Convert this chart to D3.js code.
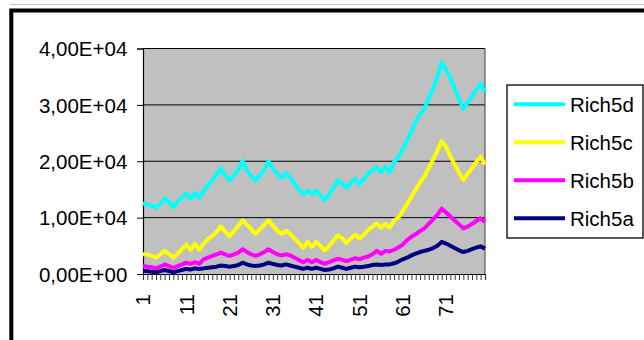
<!DOCTYPE html>
<html>
<head>
<meta charset="utf-8">
<script src="https://cdn.jsdelivr.net/npm/d3@7/dist/d3.min.js"></script>
<style>
  html, body { margin: 0; padding: 0; background: #fff; }
  svg { display: block; }
  text { font-family: "Liberation Sans", Arial, sans-serif; fill: #000; }
</style>
</head>
<body>
<svg id="chart" width="644" height="340"></svg>
<script>
// Category numbers 1..80 along the x axis
const categories = Array.from({ length: 80 }, (_, i) => i + 1);

// Labels shown on the x axis (every tenth category)
const xTickLabels = [1, 11, 21, 31, 41, 51, 61, 71];

// Value axis ticks and their printed labels
const yTickValues = [0, 10000, 20000, 30000, 40000];
const yTickLabels = ["0,00E+00", "1,00E+04", "2,00E+04", "3,00E+04", "4,00E+04"];

const rich5a = [600, 500, 400, 300, 500, 700, 500, 300, 500, 700,
  900, 800, 1000, 900, 1000, 1100, 1200, 1300, 1500, 1400,
  1300, 1400, 1600, 2000, 1700, 1500, 1400, 1500, 1700, 2000,
  1800, 1600, 1500, 1700, 1500, 1300, 1100, 900, 1100, 900,
  1100, 900, 700, 800, 1000, 1300, 1100, 900, 1100, 1300,
  1200, 1300, 1400, 1600, 1700, 1600, 1700, 1700, 1900, 2200,
  2600, 2900, 3300, 3600, 3900, 4100, 4300, 4600, 5000, 5700,
  5400, 5000, 4600, 4200, 3900, 4100, 4400, 4700, 4900, 4500];

const rich5b = [1400, 1300, 1200, 1000, 1300, 1700, 1400, 1100, 1400, 1700,
  2000, 1800, 2100, 1800, 2600, 2900, 3200, 3500, 3800, 3500,
  3200, 3500, 3800, 4400, 3900, 3500, 3200, 3500, 3900, 4400,
  3900, 3500, 3300, 3500, 3300, 2900, 2500, 2100, 2500, 2100,
  2500, 2100, 1800, 2100, 2400, 2700, 2500, 2300, 2500, 2800,
  2600, 2900, 3100, 3500, 4100, 3600, 4100, 4000, 4300, 4700,
  5200, 6000, 6600, 7100, 7600, 8100, 8900, 9700, 10500, 11600,
  10900, 10200, 9500, 8800, 8100, 8400, 8900, 9400, 9900, 9200];

const rich5c = [3500, 3500, 3200, 2900, 3500, 4100, 3600, 2900, 3600, 4400,
  5200, 4300, 5400, 4300, 5400, 6200, 6700, 7500, 8400, 7500,
  6700, 7600, 8500, 9500, 8700, 7900, 7100, 7900, 8700, 9500,
  8600, 7700, 7100, 7700, 7100, 6300, 5500, 4600, 5700, 4800,
  5700, 5000, 4200, 5000, 5900, 6900, 6300, 5500, 6300, 7000,
  6300, 7000, 7800, 8400, 9000, 8200, 8900, 8200, 9500, 10000,
  11200, 12400, 13700, 15000, 16200, 17300, 18800, 20300, 21900, 23600,
  22500, 20900, 19400, 18000, 16700, 17800, 18800, 19900, 20800, 19400];

const rich5d = [12500, 12400, 12100, 11800, 12400, 13400, 12800, 11800, 12800, 13600,
  14300, 13400, 14400, 13500, 14700, 15800, 16500, 17700, 18700, 17500,
  16600, 17500, 18400, 20100, 18400, 17400, 16600, 17500, 18500, 20000,
  18700, 17800, 17000, 17900, 17100, 16000, 15000, 14200, 14800, 14200,
  14800, 13900, 13100, 14100, 15300, 16600, 16000, 15300, 16100, 16900,
  15900, 16900, 17800, 18400, 19000, 18000, 19000, 18000, 19900, 20700,
  22100, 23700, 25200, 27100, 28300, 29300, 31100, 32900, 35000, 37500,
  36300, 34700, 33000, 31000, 29300, 30400, 31500, 32700, 33800, 32200];

const seriesNames = ["Rich5a", "Rich5b", "Rich5c", "Rich5d"];
const seriesValues = [rich5a, rich5b, rich5c, rich5d];
const seriesColors = ["#000080", "#FF00FF", "#FFFF00", "#00FFFF"];

const svg = d3.select("#chart");
const plot = { left: 143, right: 485, top: 48.5, bottom: 274 };
const fontSize = 20.5;

// Outer chart frame (runs off the right and bottom edges)
svg.append("line")
  .attr("x1", 10).attr("x2", 644).attr("y1", 4.5).attr("y2", 4.5)
  .attr("stroke", "#c8c8c8").attr("stroke-width", 1);
svg.append("rect")
  .attr("x", 11.3).attr("y", 10.5).attr("width", 700).attr("height", 400)
  .attr("fill", "#fff").attr("stroke", "#000").attr("stroke-width", 4);

const x = d3.scalePoint().domain(categories).range([plot.left, plot.right]);
const y = d3.scaleLinear().domain([0, 40000]).range([plot.bottom, plot.top]);

// Plot area background
svg.append("rect")
  .attr("x", plot.left).attr("y", plot.top)
  .attr("width", plot.right - plot.left).attr("height", plot.bottom - plot.top)
  .attr("fill", "#C0C0C0");

// Horizontal gridlines
svg.append("g").selectAll("line")
  .data(yTickValues.filter(v => v > 0))
  .join("line")
  .attr("x1", plot.left).attr("x2", plot.right)
  .attr("y1", d => y(d)).attr("y2", d => y(d))
  .attr("stroke", "#000").attr("stroke-width", 1);

// Right border of plot area
svg.append("line")
  .attr("x1", plot.right).attr("x2", plot.right)
  .attr("y1", plot.top).attr("y2", plot.bottom)
  .attr("stroke", "#404040").attr("stroke-width", 1);

// Value axis
const yAxis = svg.append("g")
  .attr("transform", `translate(${plot.left},0)`)
  .call(d3.axisLeft(y)
    .tickValues(yTickValues)
    .tickSize(6)
    .tickPadding(9.7)
    .tickFormat((d, i) => yTickLabels[i]));
yAxis.select(".domain").attr("stroke", "#000").attr("stroke-width", 1.2);
yAxis.selectAll(".tick line").attr("stroke", "#000").attr("stroke-width", 1);
yAxis.selectAll(".tick text")
  .attr("font-size", fontSize)
  .attr("font-family", "'Liberation Sans', Arial, sans-serif")
  .attr("dy", "0.355em");

// Category axis: a tick per category, labels every tenth
const xAxis = svg.append("g")
  .attr("transform", `translate(0,${plot.bottom})`)
  .call(d3.axisBottom(x).tickSize(6).tickFormat(() => ""));
xAxis.select(".domain").attr("stroke", "#000").attr("stroke-width", 1.2);
xAxis.selectAll(".tick line").attr("stroke", "#3a3a3a").attr("stroke-width", 1);
xAxis.selectAll(".tick text").remove();

svg.append("g").selectAll("text")
  .data(xTickLabels)
  .join("text")
  .attr("transform", d => `translate(${x(d)},294) rotate(-90)`)
  .attr("text-anchor", "end")
  .attr("dy", "0.355em")
  .attr("font-size", fontSize)
  .text(d => d);

// Series lines
const line = d3.line()
  .x((d, i) => x(categories[i]))
  .y(d => y(d));

svg.append("g").selectAll("path")
  .data(seriesValues)
  .join("path")
  .attr("d", d => line(d))
  .attr("fill", "none")
  .attr("stroke", (d, i) => seriesColors[i])
  .attr("stroke-width", 4)
  .attr("stroke-linejoin", "round");

// Legend
const legend = { x: 507, y: 85, w: 136, h: 153 };
svg.append("rect")
  .attr("x", legend.x).attr("y", legend.y)
  .attr("width", legend.w).attr("height", legend.h)
  .attr("fill", "#fff").attr("stroke", "#000").attr("stroke-width", 1.3);

const legendOrder = [3, 2, 1, 0];
const rowY = d3.scalePoint().domain(legendOrder).range([104.3, 218.3]);
const rows = svg.append("g").selectAll("g")
  .data(legendOrder)
  .join("g")
  .attr("transform", d => `translate(0,${rowY(d)})`);
rows.append("line")
  .attr("x1", 514).attr("x2", 565)
  .attr("stroke", d => seriesColors[d])
  .attr("stroke-width", 4);
rows.append("text")
  .attr("x", 570)
  .attr("dy", "0.355em")
  .attr("font-size", fontSize)
  .text(d => seriesNames[d]);
</script>
</body>
</html>
